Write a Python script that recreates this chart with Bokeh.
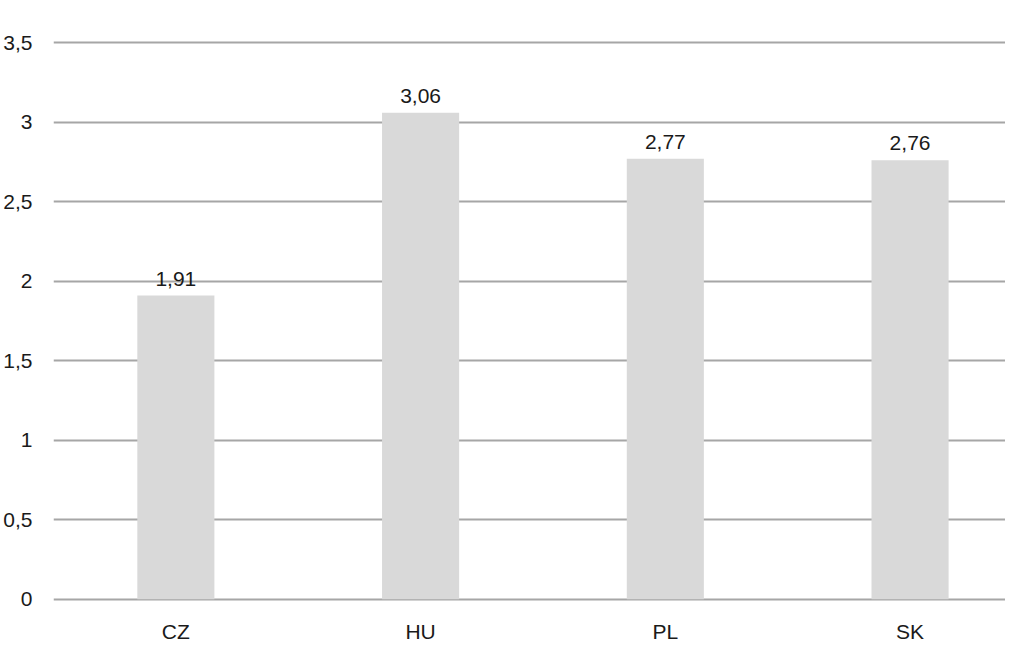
from bokeh.plotting import figure
from bokeh.models import ColumnDataSource, Range1d, FixedTicker
from bokeh.core.properties import value
from bokeh.embed import file_html
from bokeh.resources import INLINE

categories = ["CZ", "HU", "PL", "SK"]
values = [1.91, 3.06, 2.77, 2.76]
y_ticks = [0, 0.5, 1, 1.5, 2, 2.5, 3, 3.5]

FONT = "Liberation Sans"
FS = "21px"

xs = [i + 0.5 for i in range(len(categories))]
labels = [f"{v:.2f}".replace(".", ",") for v in values]
src = ColumnDataSource(dict(x=xs, top=values, label=labels))

p = figure(width=1005, height=645, output_backend="svg", toolbar_location=None,
           x_range=Range1d(0, 3.89), y_range=Range1d(-0.02, 3.52),
           min_border_left=46, min_border_top=39, min_border_bottom=20, min_border_right=0)
p.outline_line_color = None
p.background_fill_color = "white"

p.vbar(x="x", top="top", width=0.315, bottom=0, source=src,
       fill_color="#d9d9d9", line_color=None)
p.text(x="x", y="top", text="label", source=src, text_align="center",
       text_baseline="bottom", y_offset=-10, text_font=value(FONT),
       text_font_size=FS, text_color="#1a1a1a")

p.xgrid.visible = False
p.ygrid.grid_line_color = "#a6a6a6"
p.ygrid.grid_line_width = 2
p.ygrid.level = "underlay"

p.yaxis.ticker = FixedTicker(ticks=y_ticks)
p.yaxis.major_label_overrides = {t: (f"{t:g}".replace(".", ",")) for t in y_ticks}
p.xaxis.ticker = FixedTicker(ticks=xs)
p.xaxis.major_label_overrides = {x: c for x, c in zip(xs, categories)}

for ax in (p.xaxis, p.yaxis):
    ax.axis_line_color = None
    ax.major_tick_line_color = None
    ax.minor_tick_line_color = None
    ax.major_label_text_font = FONT
    ax.major_label_text_font_size = FS
    ax.major_label_text_color = "#1a1a1a"
p.yaxis.major_label_standoff = 15
p.xaxis.major_label_standoff = 11

open("out.html", "w").write(file_html(p, INLINE))
